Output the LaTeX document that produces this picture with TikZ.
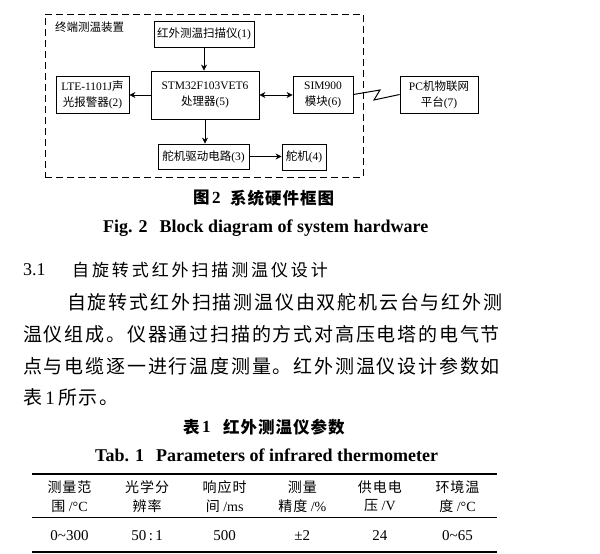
\documentclass[tikz,border=0pt]{standalone}
\usepackage{fontspec}
\setmainfont{Liberation Serif}
\newfontfamily\cjk{Noto Sans CJK SC}
\newfontfamily\cjkbody{Noto Sans CJK SC}[LetterSpace=9.5]
\newfontfamily\cjkhead{Noto Sans CJK SC}[LetterSpace=17]
\newfontfamily\cjkcap{Noto Sans CJK SC}[LetterSpace=6]
\newfontfamily\cjktab{Noto Sans CJK SC}[LetterSpace=7]
\usetikzlibrary{arrows.meta}
\newcommand\setfs[1]{\fontsize{#1}{#1}\selectfont}
\begin{document}
\begin{tikzpicture}[x=1pt,y=-1pt,
  box/.style={draw, line width=0.8pt, inner sep=0pt, align=center,
    font=\fontsize{11.5}{16}\selectfont},
  arr/.style={-{Stealth[length=6pt,width=6pt]}, line width=0.8pt},
  darr/.style={{Stealth[length=6pt,width=6pt]}-{Stealth[length=6pt,width=6pt]}, line width=0.8pt},
  frame/.style={draw, line width=0.8pt, dash pattern=on 7pt off 4pt, inner sep=0pt},
  txt/.style={inner sep=0pt, anchor=west},
  ctxt/.style={inner sep=0pt, anchor=center},
  rule/.style={line width=#1},
]
\useasboundingbox[fill=white] (0,0) rectangle (600,554);

% ---------- diagram ----------
\node[frame, minimum width=318, minimum height=163] (frm) at (204,95.5) {};
\node[txt, font=\setfs{11.5}\cjk] (lab) at (55,27) {终端测温装置};

\node[box, minimum width=100, minimum height=26] (b1) at (204,34) {{\cjk 红外测温扫描仪}(1)};
\node[box, minimum width=108, minimum height=48] (b5) at (205,95) {STM32F103VET6\\{\cjk 处理器}(5)};
\node[box, minimum width=73, minimum height=37] (b2) at (92.5,94.5) {LTE-1101J{\cjk 声}\\{\cjk 光报警器}(2)};
\node[box, minimum width=60, minimum height=37] (b6) at (323,94.5) {SIM900\\{\cjk 模块}(6)};
\node[box, minimum width=78, minimum height=37] (b7) at (439,94.5) {PC{\cjk 机物联网}\\{\cjk 平台}(7)};
\node[box, minimum width=91, minimum height=25] (b3) at (203.5,156.5) {{\cjk 舵机驱动电路}(3)};
\node[box, minimum width=44, minimum height=26] (b4) at (304,157) {{\cjk 舵机}(4)};

\draw[arr] (b1.south) -- (b1.south |- b5.north);
\draw[arr] (b5.west) -- (b5.west -| b2.east);
\draw[darr] (b5.east) -- (b5.east -| b6.west);
\draw[arr] (b5.south) -- (b5.south |- b3.north);
\draw[arr] (b3.east) -- (b3.east -| b4.west);
\coordinate (z1) at (380,90);
\coordinate (z2) at (374,100);
\draw[line width=1pt, line join=miter] (b6.east) -- (z1) -- (z2) -- (b7.west);

% ---------- figure caption ----------
\node[txt] (fa) at (193,198) {\setfs{16.5}\cjkcap\bfseries 图};
\node[txt] (fb) at (212,198) {\setfs{17}\bfseries 2};
\node[txt] (fc) at (230,198) {\setfs{16.5}\cjkcap\bfseries 系统硬件框图};
\node[txt] (fd) at (103,228) {\setfs{18}\bfseries Fig. 2\hspace{12pt}Block diagram of system hardware};

% ---------- section heading ----------
\node[txt] (h1) at (23,270) {\setfs{18}3.1};
\node[txt] (h2) at (72,270) {\setfs{17}\cjkhead 自旋转式红外扫描测温仪设计};

% ---------- body ----------
\node[txt] (p1) at (67,302) {\setfs{19}\cjkbody 自旋转式红外扫描测温仪由双舵机云台与红外测};
\node[txt] (p2) at (23,334) {\setfs{19}\cjkbody 温仪组成。仪器通过扫描的方式对高压电塔的电气节};
\node[txt] (p3) at (23,366) {\setfs{19}\cjkbody 点与电缆逐一进行温度测量。红外测温仪设计参数如};
\node[txt] (p4) at (23,397) {\setfs{19}{\cjkbody 表}\,1\,{\cjkbody 所示。}};

% ---------- table caption ----------
\node[txt] (ta) at (183,427) {\setfs{16.5}\cjkcap\bfseries 表};
\node[txt] (tb) at (202,427) {\setfs{17}\bfseries 1};
\node[txt] (tc) at (223,427) {\setfs{16.5}\cjkcap\bfseries 红外测温仪参数};
\node[txt] (td) at (95,455) {\setfs{18}\bfseries Tab. 1\hspace{12pt}Parameters of infrared thermometer};

% ---------- table ----------
\coordinate (tl) at (32,474);  \coordinate (tr) at (497,474);
\coordinate (ml) at (32,517);  \coordinate (mr) at (497,517);
\coordinate (bl) at (32,552);  \coordinate (br) at (497,552);
\draw[rule=1.7pt] (tl) -- (tr);
\draw[rule=0.8pt] (ml) -- (mr);
\draw[rule=1.7pt] (bl) -- (br);

\node[ctxt] (h11) at (69.5,487)  {\setfs{14}\cjktab 测量范};
\node[ctxt] (h12) at (69.5,506)  {\setfs{14}{\cjktab 围} /°C};
\node[ctxt] (h21) at (147.1,487) {\setfs{14}\cjktab 光学分};
\node[ctxt] (h22) at (147.1,506) {\setfs{14}\cjktab 辨率};
\node[ctxt] (h31) at (224.7,487) {\setfs{14}\cjktab 响应时};
\node[ctxt] (h32) at (224.7,506) {\setfs{14}{\cjktab 间} /ms};
\node[ctxt] (h41) at (302.3,487) {\setfs{14}\cjktab 测量};
\node[ctxt] (h42) at (302.3,506) {\setfs{14}{\cjktab 精度} /\%};
\node[ctxt] (h51) at (379.9,487) {\setfs{14}\cjktab 供电电};
\node[ctxt] (h52) at (379.9,506) {\setfs{14}{\cjktab 压} /V};
\node[ctxt] (h61) at (457.5,487) {\setfs{14}\cjktab 环境温};
\node[ctxt] (h62) at (457.5,506) {\setfs{14}{\cjktab 度} /°C};

\node[ctxt] (d1) at (69.5,536)  {\setfs{15}0\textasciitilde 300};
\node[ctxt] (d2) at (147.1,536) {\setfs{15}50\,:\,1};
\node[ctxt] (d3) at (224.7,536) {\setfs{15}500};
\node[ctxt] (d4) at (302.3,536) {\setfs{15}±2};
\node[ctxt] (d5) at (379.9,536) {\setfs{15}24};
\node[ctxt] (d6) at (457.5,536) {\setfs{15}0\textasciitilde 65};
\end{tikzpicture}
\end{document}
